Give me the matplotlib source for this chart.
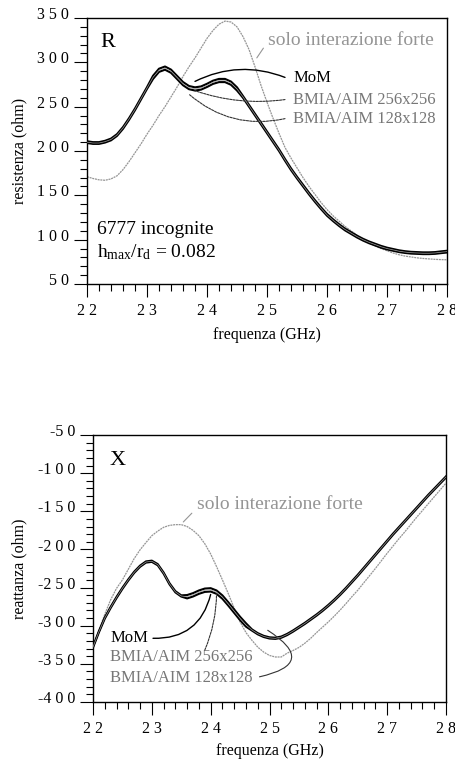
import matplotlib
matplotlib.use("Agg")
import matplotlib.pyplot as plt
import matplotlib.transforms as mtrans
from matplotlib.ticker import MultipleLocator

plt.rcParams['font.family'] = ['Liberation Serif', 'DejaVu Serif']
plt.rcParams['mathtext.fontset'] = 'custom'
plt.rcParams['mathtext.rm'] = 'Liberation Serif'
plt.rcParams['mathtext.it'] = 'Liberation Serif:italic'

# ---------------- data ----------------
freq = [2.20, 2.21, 2.22, 2.23, 2.24, 2.25, 2.26, 2.27, 2.28, 2.29,
        2.30, 2.31, 2.32, 2.33, 2.34, 2.35, 2.36, 2.37, 2.38, 2.39,
        2.40, 2.41, 2.42, 2.43, 2.44, 2.45, 2.46, 2.47, 2.48, 2.49,
        2.50, 2.51, 2.52, 2.53, 2.54, 2.55, 2.56, 2.57, 2.58, 2.59,
        2.60, 2.61, 2.62, 2.63, 2.64, 2.65, 2.66, 2.67, 2.68, 2.69,
        2.70, 2.71, 2.72, 2.73, 2.74, 2.75, 2.76, 2.77, 2.78, 2.79, 2.80]

# resistance (ohm)
R_mom = [211, 210, 210, 211.5, 214, 219, 227, 237, 248, 260, 272,
         284.8, 292.8, 295.3, 291.8, 284.8, 277.8, 273.3, 271.8, 272.8, 275.8,
         279.3, 281.3, 281.3, 278.3, 271.8,
         262, 252, 242, 232, 222, 212, 202, 191, 180.5, 171, 162, 153, 144.5,
         136.5, 129, 123, 117.5, 112.5, 108.5, 104.5, 101, 98, 95.5, 93, 91,
         89.5, 88, 87, 86.3, 86, 85.7, 85.7, 86, 86.8, 87.5]
R_aim256 = [210, 209, 209, 210.5, 213, 218, 226, 236, 247, 259, 271,
            283, 291, 293.5, 290, 283, 276, 271.5, 270, 271, 274,
            277.5, 279.5, 279.5, 276.5, 270,
            261, 251, 241, 231, 221, 211, 201, 190, 179.5, 170, 161, 152, 143.5,
            135.5, 128, 122, 116.5, 111.5, 107.5, 103.5, 100, 97, 94.5, 92, 90,
            88.5, 87, 86, 85.3, 85, 84.7, 84.7, 85, 85.8, 86.5]
R_aim128 = [209, 208, 208, 209.5, 212, 217, 225, 235, 246, 258, 270,
            281.2, 289.2, 291.7, 288.2, 281.2, 274.2, 269.7, 268.2, 269.2, 272.2,
            275.7, 277.7, 277.7, 274.7, 268.2,
            260, 250, 240, 230, 220, 210, 200, 189, 178.5, 169, 160, 151, 142.5,
            134.5, 127, 121, 115.5, 110.5, 106.5, 102.5, 99, 96, 93.5, 91, 89,
            87.5, 86, 85, 84.3, 84, 83.7, 83.7, 84, 84.8, 85.5]
R_strong = [171, 169, 167.5, 167, 168.5, 172, 179, 188, 198, 208,
            219, 229, 240, 250, 261, 272, 284, 295, 305, 316,
            327, 336, 343, 346.5, 345.5, 340, 329, 314.5, 295, 274,
            255, 237, 220, 204, 192, 181, 170, 160, 151, 142,
            134, 127, 121, 115, 110, 105, 100.5, 96.5, 93, 90,
            87.5, 85, 83, 81.5, 80.5, 79.5, 78.8, 78.3, 77.8, 77.5, 77.3]

# reactance (ohm)
X_mom = [-327.2, -307.2, -289.2, -275.2, -262.2, -250.2, -239.2, -229.2, -221.2, -215.7,
         -214.7, -219.2, -230.2, -244.2, -254.7, -260.2,
         -259.8, -257.3, -253.8, -251.3, -250.8, -253.8, -260.3, -269.3, -278.8, -288.3, -296.8,
         -304.7, -309.7, -313.2, -315.2, -315.7, -314.2, -310.7, -306.2, -301.2, -296.2,
         -290.7, -285.2, -279.2, -272.7, -265.7, -258.2, -250.2, -241.7, -233.2, -224.2,
         -215.2, -206.2, -197.2, -188.2, -179.2, -170.7, -162.2, -153.7, -145.2, -136.7,
         -128.2, -120.2, -112.2, -104.2]
X_aim256 = [-328, -308, -290, -276, -263, -251, -240, -230, -222, -216.5,
            -215.5, -220, -231, -245, -255.5, -261,
            -262, -259.5, -256, -253.5, -253, -256, -262.5, -271.5, -281, -290.5, -299,
            -305.5, -310.5, -314, -316, -316.5, -315, -311.5, -307, -302, -297,
            -291.5, -286, -280, -273.5, -266.5, -259, -251, -242.5, -234, -225,
            -216, -207, -198, -189, -180, -171.5, -163, -154.5, -146, -137.5,
            -129, -121, -113, -105]
X_aim128 = [-328.8, -308.8, -290.8, -276.8, -263.8, -251.8, -240.8, -230.8, -222.8, -217.3,
            -216.3, -220.8, -231.8, -245.8, -256.3, -261.8,
            -264.2, -261.7, -258.2, -255.7, -255.2, -258.2, -264.7, -273.7, -283.2, -292.7, -301.2,
            -306.3, -311.3, -314.8, -316.8, -317.3, -315.8, -312.3, -307.8, -302.8, -297.8,
            -292.3, -286.8, -280.8, -274.3, -267.3, -259.8, -251.8, -243.3, -234.8, -225.8,
            -216.8, -207.8, -198.8, -189.8, -180.8, -172.3, -163.8, -155.3, -146.8, -138.3,
            -129.8, -121.8, -113.8, -105.8]
X_strong = [-328, -306, -285, -266, -251, -240, -226, -212, -200.5, -191,
            -182, -176, -171, -168.5, -167.5, -167.5, -170, -175, -182, -192.5,
            -206, -222.5, -240, -258, -277, -295, -309, -319, -328, -334.5,
            -339, -341, -341, -336, -332.5, -328.5, -323, -316.5, -309, -302,
            -295, -287.5, -279.5, -271, -262, -253.5, -244, -234.5, -225, -215,
            -205, -195.5, -186, -177, -167.5, -158, -149, -140, -131, -122, -113]

x_ticks = [2.2, 2.3, 2.4, 2.5, 2.6, 2.7, 2.8]
x_ticklabels = ['2 2', '2 3', '2 4', '2 5', '2 6', '2 7', '2 8']
R_ticks = [50, 100, 150, 200, 250, 300, 350]
R_ticklabels = ['5 0', '1 0 0', '1 5 0', '2 0 0', '2 5 0', '3 0 0', '3 5 0']
X_ticks = [-400, -350, -300, -250, -200, -150, -100, -50]
X_ticklabels = ['-4 0 0', '-3 5 0', '-3 0 0', '-2 5 0', '-2 0 0', '-1 5 0', '-1 0 0', '-5 0']

# ---------------- style ----------------
C_STRONG = '#959595'
C_AIMTXT = '#777777'
C_LEAD = '#333333'
C_MID = '#9a9a9a'

fig = plt.figure(figsize=(4.56, 7.62), dpi=100)
ax1 = fig.add_axes([87 / 456, 1 - 284 / 762, 360 / 456, 266 / 762])
ax2 = fig.add_axes([93 / 456, 1 - 702 / 762, 353 / 456, 267 / 762])


def style(ax, yt, ytl, ylim, ylabel, xlab_y, ylab_x):
    ax.set_xlim(2.2, 2.8)
    ax.set_ylim(*ylim)
    ax.set_xticks(x_ticks)
    ax.set_xticklabels(x_ticklabels)
    ax.set_yticks(yt)
    ax.set_yticklabels(ytl)
    ax.xaxis.set_minor_locator(MultipleLocator(0.02))
    ax.yaxis.set_minor_locator(MultipleLocator(10))
    ax.tick_params(which='major', direction='out', length=9.5, width=0.8,
                   labelsize=11.5, top=False, right=False)
    ax.tick_params(which='minor', direction='out', length=4.8, width=0.8,
                   top=False, right=False)
    ax.tick_params(axis='x', which='major', pad=4.5)
    ax.tick_params(axis='y', which='major', pad=3.5)
    for sp in ax.spines.values():
        sp.set_linewidth(1.0)
    off = mtrans.ScaledTranslation(0, 3.5 / 72, fig.dpi_scale_trans)
    for lab in ax.get_yticklabels():
        lab.set_transform(lab.get_transform() + off)
    ax.set_xlabel('frequenza (GHz)', fontsize=11.5)
    ax.set_ylabel(ylabel, fontsize=11.5)
    ax.xaxis.set_label_coords(0.5, xlab_y)
    ax.yaxis.set_label_coords(ylab_x, 0.5)


style(ax1, R_ticks, R_ticklabels, (50, 350), 'resistenza (ohm)', -0.16, -0.165)
style(ax2, X_ticks, X_ticklabels, (-400, -50), 'reattanza (ohm)', -0.155, -0.185)

# ---------------- top: resistance ----------------
ax1.plot(freq, R_strong, color=C_STRONG, lw=0.9, ls=(0, (1.6, 0.6)), zorder=2)
ax1.plot(freq, R_mom, color='black', lw=1.5, zorder=3)
ax1.plot(freq, R_aim128, color='black', lw=1.5, zorder=3)
ax1.plot(freq, R_aim256, color=C_MID, lw=0.5, zorder=4)

ax1.text(2.2215, 322, 'R', fontsize=16, ha='left', va='center')
ax1.text(2.216, 112, '6777 incognite', fontsize=14, ha='left', va='center')
ax1.text(2.216, 86, r'h$_{\rm max}$/r$_{\rm d}$ = 0.082', fontsize=14,
         ha='left', va='center')

ax1.text(2.502, 325, 'solo interazione forte', fontsize=14, color=C_STRONG,
         ha='left', va='center')
ax1.annotate('', xy=(2.483, 305), xytext=(2.494, 316),
             arrowprops=dict(arrowstyle='-', color=C_STRONG, lw=0.8,
                             shrinkA=0, shrinkB=0))

ax1.text(2.544, 282, 'MoM', fontsize=12, ha='left', va='center')
ax1.text(2.544, 258, 'BMIA/AIM 256x256', fontsize=12, color=C_AIMTXT,
         ha='left', va='center')
ax1.text(2.544, 236.5, 'BMIA/AIM 128x128', fontsize=12, color=C_AIMTXT,
         ha='left', va='center')
ax1.annotate('', xy=(2.38, 278.5), xytext=(2.53, 283),
             arrowprops=dict(arrowstyle='-', color='black', lw=1.0,
                             connectionstyle='arc3,rad=0.22',
                             shrinkA=0, shrinkB=0))
ax1.annotate('', xy=(2.38, 268), xytext=(2.53, 258),
             arrowprops=dict(arrowstyle='-', color=C_LEAD, lw=0.8, ls=(0, (2, 1)),
                             connectionstyle='arc3,rad=-0.12',
                             shrinkA=0, shrinkB=0))
ax1.annotate('', xy=(2.37, 264), xytext=(2.53, 236.5),
             arrowprops=dict(arrowstyle='-', color=C_LEAD, lw=0.8, ls=(0, (2, 1)),
                             connectionstyle='arc3,rad=-0.25',
                             shrinkA=0, shrinkB=0))

# ---------------- bottom: reactance ----------------
ax2.plot(freq, X_strong, color=C_STRONG, lw=0.9, ls=(0, (1.6, 0.6)), zorder=2)
ax2.plot(freq, X_mom, color='black', lw=1.5, zorder=3)
ax2.plot(freq, X_aim128, color='black', lw=1.5, zorder=3)
ax2.plot(freq, X_aim256, color=C_MID, lw=0.5, zorder=4)

ax2.text(2.2285, -83, 'X', fontsize=16, ha='left', va='center')
ax2.text(2.376, -141, 'solo interazione forte', fontsize=14, color=C_STRONG,
         ha='left', va='center')
ax2.annotate('', xy=(2.3535, -164), xytext=(2.368, -152.5),
             arrowprops=dict(arrowstyle='-', color=C_STRONG, lw=0.8,
                             shrinkA=0, shrinkB=0))

ax2.text(2.2296, -316, 'MoM', fontsize=12, ha='left', va='center')
ax2.text(2.2296, -341.5, 'BMIA/AIM 256x256', fontsize=12, color=C_AIMTXT,
         ha='left', va='center')
ax2.text(2.2296, -369, 'BMIA/AIM 128x128', fontsize=12, color=C_AIMTXT,
         ha='left', va='center')
ax2.annotate('', xy=(2.40, -259), xytext=(2.302, -316.5),
             arrowprops=dict(arrowstyle='-', color='black', lw=1.0,
                             connectionstyle='arc3,rad=0.4',
                             shrinkA=0, shrinkB=0))
ax2.annotate('', xy=(2.41, -258), xytext=(2.39, -332),
             arrowprops=dict(arrowstyle='-', color=C_LEAD, lw=0.8, ls=(0, (2, 1)),
                             connectionstyle='arc3,rad=0.1',
                             shrinkA=0, shrinkB=0))
ax2.annotate('', xy=(2.497, -306), xytext=(2.483, -367),
             arrowprops=dict(arrowstyle='-', color=C_LEAD, lw=0.8,
                             connectionstyle='arc3,rad=1.2',
                             shrinkA=0, shrinkB=0))

fig.savefig('out.png', dpi=100)
